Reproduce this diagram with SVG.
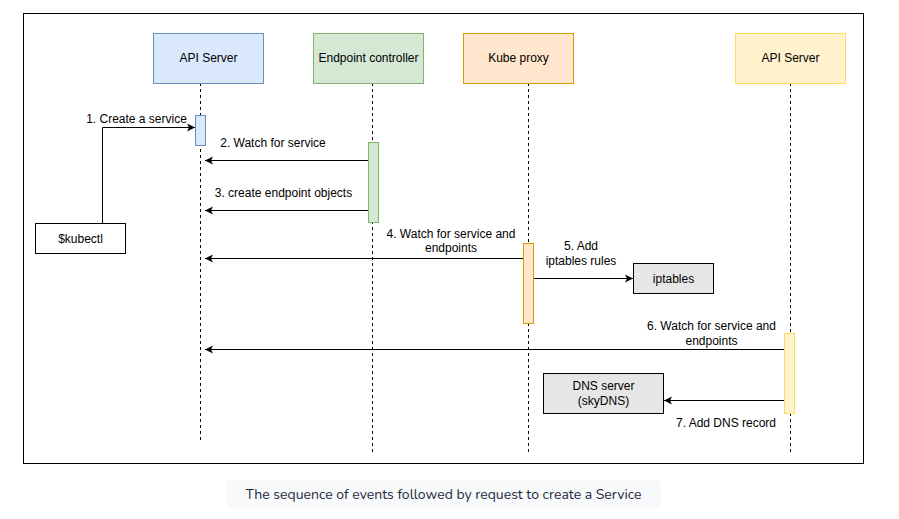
<svg xmlns="http://www.w3.org/2000/svg" width="899" height="519" viewBox="0 0 899 519">
<style>
  text { font-family: "Liberation Sans", Arial, sans-serif; font-size: 12px; fill: #000; }
  .c { text-anchor: middle; }
  .life { stroke: #000; stroke-width: 1; stroke-dasharray: 3 3; fill: none; }
  .msg { stroke: #000; stroke-width: 1; fill: none; marker-end: url(#arr); }
  .gray { fill: #e6e6e6; stroke: #000; stroke-width: 1; }
  .cap { font-family: "Nunito", "Open Sans", "Noto Sans", sans-serif; font-size: 14px; fill: #1e293b; }
</style>
<defs>
  <marker id="arr" markerUnits="userSpaceOnUse" markerWidth="10" markerHeight="10" refX="8" refY="5" orient="auto">
    <path d="M0,1 L8,5 L0,9 L2,5 Z" fill="#000"/>
  </marker>
</defs>
<rect x="0" y="0" width="899" height="519" fill="#fff"/>
<rect x="23.5" y="13.5" width="840" height="450" fill="#fff" stroke="#000" stroke-width="1"/>

<g id="lifelines">
  <line class="life" x1="200.5" y1="83" x2="200.5" y2="443"/>
  <line class="life" x1="372.5" y1="83" x2="372.5" y2="453"/>
  <line class="life" x1="528.5" y1="83" x2="528.5" y2="453"/>
  <line class="life" x1="790.5" y1="83" x2="790.5" y2="453"/>
</g>

<g id="api-server">
  <rect x="153.5" y="33.5" width="110" height="50" fill="#dae8fc" stroke="#6c8ebf"/>
  <text class="c" x="208.5" y="61.5">API Server</text>
</g>
<g id="endpoint-controller">
  <rect x="313.5" y="33.5" width="110" height="50" fill="#d5e8d4" stroke="#82b366"/>
  <text class="c" x="368.5" y="61.5">Endpoint controller</text>
</g>
<g id="kube-proxy">
  <rect x="463.5" y="33.5" width="110" height="50" fill="#ffe6cc" stroke="#d79b00"/>
  <text class="c" x="518.5" y="61.5">Kube proxy</text>
</g>
<g id="api-server-2">
  <rect x="735.5" y="33.5" width="110" height="50" fill="#fff2cc" stroke="#ffd966"/>
  <text class="c" x="790.5" y="61.5">API Server</text>
</g>

<g id="activations">
  <rect x="195.5" y="115.5" width="10" height="30" fill="#dae8fc" stroke="#6c8ebf"/>
  <rect x="368.5" y="142.5" width="10" height="80" fill="#d5e8d4" stroke="#82b366"/>
  <rect x="523.5" y="243.5" width="10" height="80" fill="#ffe6cc" stroke="#d79b00"/>
  <rect x="784.5" y="333.5" width="10" height="80" fill="#fff2cc" stroke="#ffd966"/>
</g>

<g id="kubectl">
  <rect x="35.5" y="223.5" width="90" height="30" fill="#fff" stroke="#000"/>
  <text class="c" x="80.5" y="242.5">$kubectl</text>
</g>
<g id="iptables">
  <rect class="gray" x="633.5" y="263.5" width="80" height="30"/>
  <text class="c" x="673.5" y="282.5">iptables</text>
</g>
<g id="dns-server">
  <rect class="gray" x="543.5" y="373.5" width="120" height="40"/>
  <text class="c" x="603.5" y="389.5">DNS server</text>
  <text class="c" x="603.5" y="404.5">(skyDNS)</text>
</g>

<g id="connectors">
  <path class="msg" d="M102.5,223 L102.5,127.5 L195,127.5"/>
  <line class="msg" x1="368" y1="160.5" x2="205" y2="160.5"/>
  <line class="msg" x1="368" y1="210.5" x2="205" y2="210.5"/>
  <line class="msg" x1="523" y1="258.5" x2="205" y2="258.5"/>
  <line class="msg" x1="534" y1="278.5" x2="633" y2="278.5"/>
  <line class="msg" x1="784" y1="349.5" x2="205" y2="349.5"/>
  <line class="msg" x1="784" y1="400.5" x2="664" y2="400.5"/>
</g>

<g id="labels">
  <text class="c" x="136.5" y="123">1. Create a service</text>
  <text class="c" x="273" y="147">2. Watch for service</text>
  <text class="c" x="283.5" y="197">3. create endpoint objects</text>
  <text class="c" x="451" y="238">4. Watch for service and</text>
  <text class="c" x="451" y="252">endpoints</text>
  <text class="c" x="581" y="249.5">5. Add</text>
  <text class="c" x="581" y="264.5">iptables rules</text>
  <text class="c" x="711.5" y="330">6. Watch for service and</text>
  <text class="c" x="711.5" y="345">endpoints</text>
  <text class="c" x="726" y="427">7. Add DNS record</text>
</g>

<g id="caption">
  <rect x="226" y="480" width="435" height="28" rx="4" fill="#f8f9fb"/>
  <text class="c cap" x="443.5" y="499">The sequence of events followed by request to create a Service</text>
</g>
</svg>
